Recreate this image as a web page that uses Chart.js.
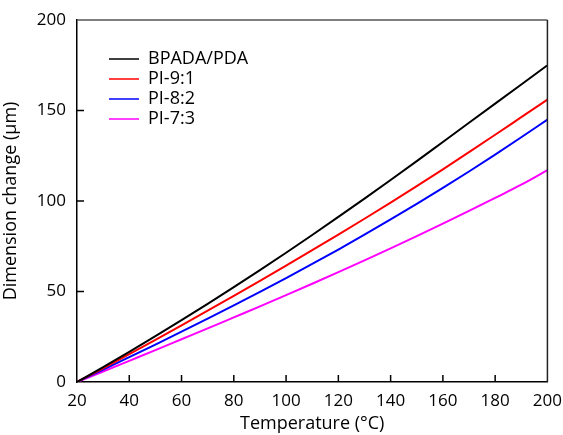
<html lang="en">
<head>
  <meta charset="UTF-8" />
  <title>Dimension change</title>
  <script src="https://cdn.jsdelivr.net/npm/chart.js"></script>
  <style>
    body { margin: 0; background: #fff; }
    #wrap { width: 563px; height: 435px; }
  </style>
</head>
<body>
  <div id="wrap"><canvas id="chart" width="563" height="435"></canvas></div>
  <script>
    // temperature (°C)
    const temps = [20, 30, 40, 50, 60, 70, 80, 90, 100, 110, 120, 130, 140, 150, 160, 170, 180, 190, 200];
    // dimension change (µm)
    const bpada = [0, 8.2, 16.6, 25.3, 34.2, 43.2, 52.4, 61.8, 71.4, 81.2, 91.2, 101.3, 111.6, 122, 132.6, 143.2, 153.8, 164.4, 175];
    const pi91 = [0, 7.6, 15.4, 23.3, 31.3, 39.4, 47.6, 55.9, 64.3, 72.8, 81.4, 90.2, 99.1, 108.2, 117.5, 127, 136.6, 146.3, 156];
    const pi82 = [0, 6.8, 13.7, 20.7, 27.8, 35, 42.3, 49.8, 57.4, 65.2, 73.2, 81.4, 89.8, 98.4, 107.2, 116.3, 125.6, 135.2, 145];
    const pi73 = [0, 5.8, 11.7, 17.6, 23.6, 29.6, 35.7, 41.8, 48, 54.3, 60.7, 67.2, 73.8, 80.6, 87.5, 94.5, 101.7, 109, 117];

    const names = ["BPADA/PDA", "PI-9:1", "PI-8:2", "PI-7:3"];
    const colors = ["#000000", "#ff0000", "#0000ff", "#ff00ff"];
    const series = [bpada, pi91, pi82, pi73];

    const xTicks = [40, 60, 80, 100, 120, 140, 160, 180];
    const yTicks = [50, 100, 150];

    const font = "'Open Sans', 'DejaVu Sans', sans-serif";

    // inward ticks, frame on top/right, legend inside the plot
    const extras = {
      id: "extras",
      afterDraw(chart) {
        const ctx = chart.ctx;
        const a = chart.chartArea;
        const xs = chart.scales.x, ys = chart.scales.y;
        ctx.save();
        ctx.lineWidth = 1.5;
        ctx.strokeStyle = "#555";
        ctx.beginPath();
        ctx.moveTo(a.left, a.top);
        ctx.lineTo(a.right, a.top);
        ctx.stroke();
        ctx.strokeStyle = "#222";
        ctx.beginPath();
        ctx.moveTo(a.right, a.top);
        ctx.lineTo(a.right, a.bottom);
        ctx.stroke();

        ctx.fillStyle = "#000";
        xTicks.forEach(v => {
          const px = xs.getPixelForValue(v);
          ctx.fillRect(px - 0.75, a.bottom - 7, 1.5, 7);
        });
        yTicks.forEach(v => {
          const py = ys.getPixelForValue(v);
          ctx.fillRect(a.left, py - 0.75, 7, 1.5);
        });

        ctx.font = "18px " + font;
        ctx.textBaseline = "middle";
        chart.data.datasets.forEach((ds, i) => {
          const y = 59 + i * 20;
          ctx.strokeStyle = ds.borderColor;
          ctx.lineWidth = 1.5;
          ctx.beginPath();
          ctx.moveTo(109, y);
          ctx.lineTo(139, y);
          ctx.stroke();
          ctx.fillStyle = "#000";
          ctx.fillText(ds.label, 148, y);
        });
        ctx.restore();
      }
    };

    new Chart(document.getElementById("chart").getContext("2d"), {
      type: "line",
      data: {
        datasets: series.map((s, i) => ({
          label: names[i],
          data: temps.map((t, j) => ({ x: t, y: s[j] })),
          borderColor: colors[i],
          borderWidth: 2,
          pointRadius: 0,
          cubicInterpolationMode: "monotone",
          fill: false
        }))
      },
      options: {
        responsive: false,
        animation: false,
        layout: { padding: { left: 0, top: 20, right: 7.5, bottom: 0 } },
        plugins: { legend: { display: false }, tooltip: { enabled: false } },
        scales: {
          x: {
            type: "linear",
            min: 20,
            max: 200,
            afterFit: s => { s.height = 53; },
            ticks: { stepSize: 20, color: "#000", font: { family: font, size: 17 }, padding: 1, maxRotation: 0 },
            grid: { display: false },
            border: { color: "#000", width: 1.5 },
            title: { display: true, text: "Temperature (°C)", color: "#000", font: { family: font, size: 18 }, padding: { top: 0, bottom: 0 } }
          },
          y: {
            min: 0,
            max: 200,
            afterFit: s => { s.width = 77; },
            ticks: { stepSize: 50, color: "#000", font: { family: font, size: 17 }, padding: 3 },
            grid: { display: false },
            border: { color: "#000", width: 1.5 },
            title: { display: true, text: "Dimension change (μm)", color: "#000", font: { family: font, size: 18 }, padding: { top: 0, bottom: 4 } }
          }
        }
      },
      plugins: [extras]
    });
  </script>
</body>
</html>
